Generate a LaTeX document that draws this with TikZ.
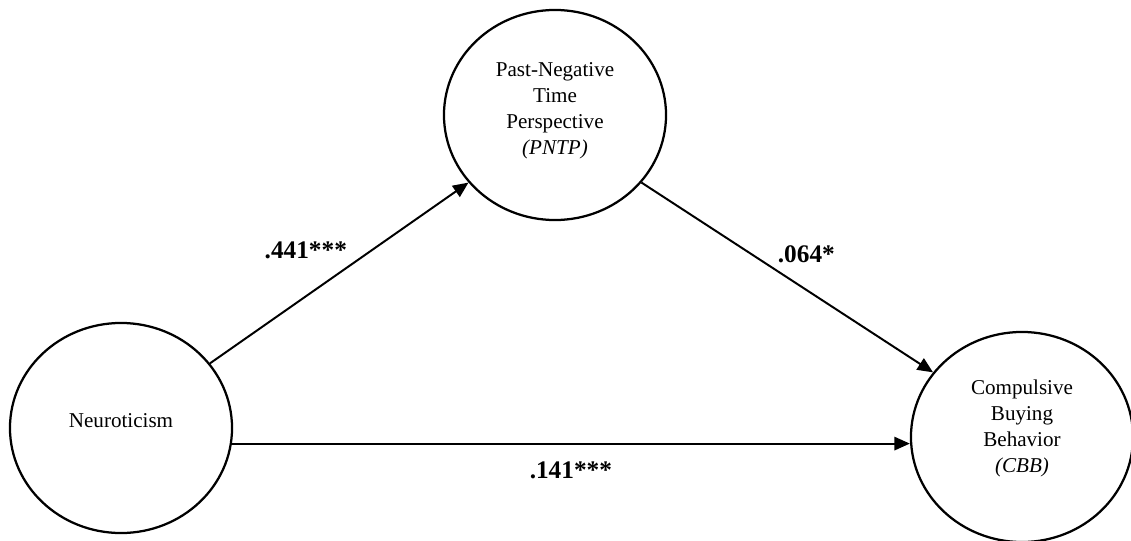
\documentclass[tikz,border=0pt]{standalone}
\usepackage{fontspec}
\setmainfont{Liberation Serif}
\usepackage{tikz}
\usetikzlibrary{arrows.meta,shapes.geometric}

\begin{document}
\begin{tikzpicture}[x=0.025cm,y=-0.025cm,
  var/.style={draw=black,ellipse,line width=1.6pt,minimum width=5.55cm,minimum height=5.25cm,inner sep=0pt,align=center,font=\fontsize{15}{18.5}\selectfont},
  path/.style={->,line width=1.4pt},
  lab/.style={font=\fontsize{18}{21}\selectfont\bfseries,inner sep=3pt},
  >={Triangle[length=11pt,width=9.5pt]}]
  \useasboundingbox (0,0) rectangle (1131,540);
  % latent variables
  \node[var,text depth=10pt] (neuro) at (121,428) {Neuroticism};
  \node[var,text depth=9pt] (pntp) at (555,115) {Past-Negative\\Time\\Perspective\\\textit{(PNTP)}};
  \node[var,text depth=15pt] (cbb) at (1022,437) {Compulsive\\Buying\\Behavior\\\textit{(CBB)}};
  % paths
  \draw[path] (neuro.36.6) -- node[lab,pos=0.55,above left]{.441***} (pntp.218.5);
  \draw[path] (pntp.-38.7) -- node[lab,pos=0.45,above right]{.064*} (cbb.144.3);
  \draw[path] (neuro.-8) -- node[lab,below=9pt]{.141***} (neuro.-8 -| cbb.west);
\end{tikzpicture}
\end{document}
